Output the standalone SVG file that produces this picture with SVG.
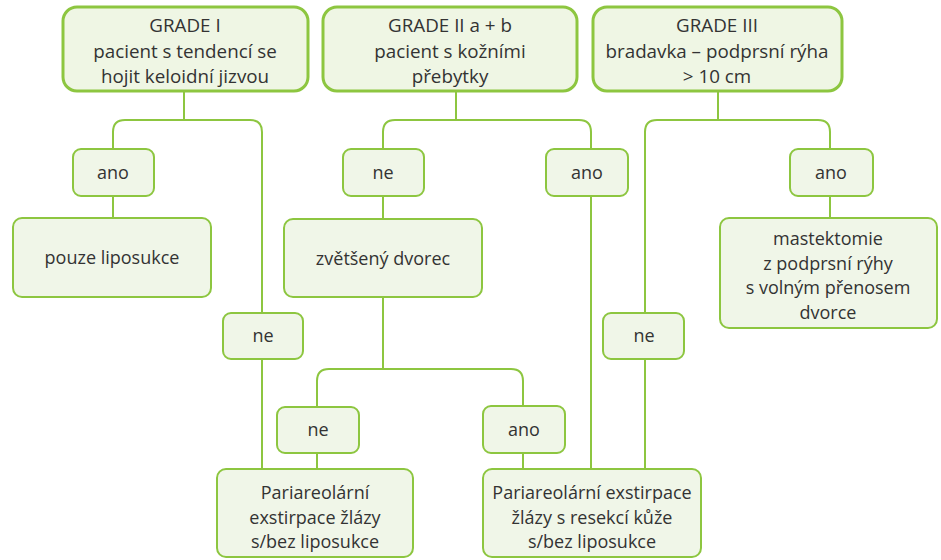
<svg xmlns="http://www.w3.org/2000/svg" width="941" height="560" viewBox="0 0 941 560">
<style>
.top{fill:#eff6e4;stroke:#8dc640;stroke-width:3}
.box{fill:#f0f6e8;stroke:#8dc640;stroke-width:2}
.t{font-family:"Open Sans","Noto Sans",sans-serif;font-size:18px;fill:#333333;text-anchor:middle}
.h{font-size:18.8px}
.c{fill:none;stroke:#8dc640;stroke-width:2}
</style>
<rect width="941" height="560" fill="#ffffff"/>
<g id="connectors">
<path class="c" d="M184,92 V120 M113,149 V132 Q113,120 125,120 H250 Q262,120 262,132 V313 M113,196 V218 M262,359 V469"/>
<path class="c" d="M456,92 V120 M383,149 V132 Q383,120 395,120 H579 Q591,120 591,132 V149 M591,196 V469 M383,196 V219 M383,297 V369 M317,407 V381 Q317,369 329,369 H511 Q523,369 523,381 V406 M317,453 V469 M523,453 V469"/>
<path class="c" d="M718,92 V120 M645,313 V132 Q645,120 657,120 H818 Q830,120 830,132 V149 M830,196 V218 M645,359 V469"/>
</g>
<g id="grade1">
<rect class="top" x="63" y="7" width="245" height="84" rx="14"/>
<text class="t h" x="185" y="32">GRADE I</text>
<text class="t h" x="185" y="57.6">pacient s tendencí se</text>
<text class="t h" x="185" y="83.2">hojit keloidní jizvou</text>
</g>
<g id="grade2">
<rect class="top" x="323" y="7" width="254" height="84" rx="14"/>
<text class="t h" x="450" y="32">GRADE II a + b</text>
<text class="t h" x="450" y="57.6">pacient s kožními</text>
<text class="t h" x="450" y="83.2">přebytky</text>
</g>
<g id="grade3">
<rect class="top" x="593" y="7" width="249" height="84" rx="14"/>
<text class="t h" x="717" y="32">GRADE III</text>
<text class="t h" x="717" y="57.6">bradavka – podprsní rýha</text>
<text class="t h" x="717" y="83.2">&gt; 10 cm</text>
</g>
<g id="ano1">
<rect class="box" x="73" y="149" width="81" height="47" rx="8"/>
<text class="t" x="113" y="179">ano</text>
</g>
<g id="liposukce">
<rect class="box" x="13" y="218" width="198" height="79" rx="9"/>
<text class="t" x="112" y="264">pouze liposukce</text>
</g>
<g id="ne1">
<rect class="box" x="223" y="313" width="80" height="46" rx="8"/>
<text class="t" x="263" y="342">ne</text>
</g>
<g id="ne2">
<rect class="box" x="343" y="149" width="81" height="47" rx="8"/>
<text class="t" x="383" y="179">ne</text>
</g>
<g id="ano2">
<rect class="box" x="546" y="149" width="82" height="47" rx="8"/>
<text class="t" x="587" y="179">ano</text>
</g>
<g id="dvorec">
<rect class="box" x="284" y="219" width="198" height="78" rx="9"/>
<text class="t" x="383" y="265">zvětšený dvorec</text>
</g>
<g id="ne3">
<rect class="box" x="277" y="407" width="82" height="46" rx="8"/>
<text class="t" x="318" y="436">ne</text>
</g>
<g id="ano3">
<rect class="box" x="483" y="406" width="82" height="47" rx="8"/>
<text class="t" x="524" y="436">ano</text>
</g>
<g id="exstirpace1">
<rect class="box" x="217" y="469" width="196" height="88" rx="9"/>
<text class="t" x="315" y="499">Pariareolární</text>
<text class="t" x="315" y="523.5">exstirpace žlázy</text>
<text class="t" x="315" y="548">s/bez liposukce</text>
</g>
<g id="exstirpace2">
<rect class="box" x="483" y="469" width="218" height="88" rx="9"/>
<text class="t" x="592" y="499">Pariareolární exstirpace</text>
<text class="t" x="592" y="523.5">žlázy s resekcí kůže</text>
<text class="t" x="592" y="548">s/bez liposukce</text>
</g>
<g id="ano4">
<rect class="box" x="790" y="149" width="83" height="47" rx="8"/>
<text class="t" x="831" y="179">ano</text>
</g>
<g id="mastektomie">
<rect class="box" x="720" y="218" width="217" height="110" rx="9"/>
<text class="t" x="828" y="245">mastektomie</text>
<text class="t" x="828" y="269.5">z podprsní rýhy</text>
<text class="t" x="828" y="294">s volným přenosem</text>
<text class="t" x="828" y="318.5">dvorce</text>
</g>
<g id="ne4">
<rect class="box" x="603" y="313" width="81" height="46" rx="8"/>
<text class="t" x="644" y="342">ne</text>
</g>
</svg>
